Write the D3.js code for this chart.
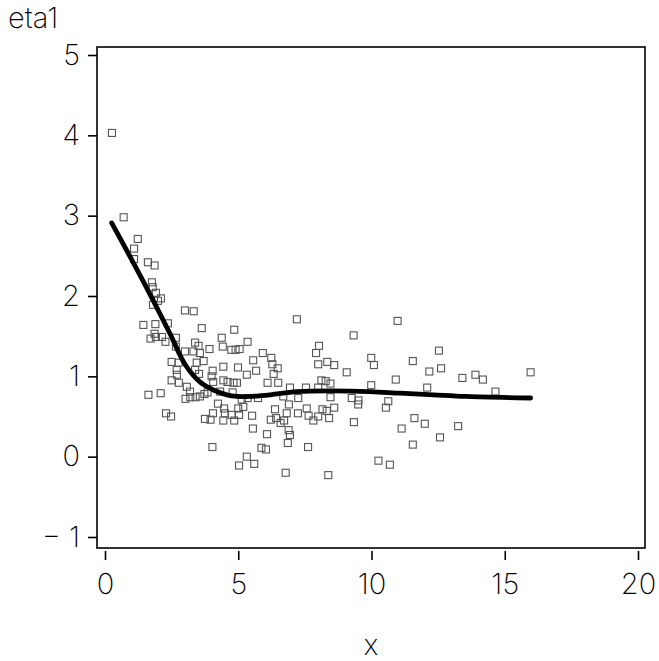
<!DOCTYPE html>
<html>
<head>
<meta charset="utf-8">
<script src="https://cdn.jsdelivr.net/npm/d3@7/dist/d3.min.js"></script>
<style>
  html, body { margin: 0; padding: 0; background: #fff; }
  svg text { font-family: Inter, "DejaVu Sans", sans-serif; font-weight: 200; fill: #000; }
</style>
</head>
<body>
<svg id="chart" width="659" height="661"></svg>
<script>
// scatter values (x, eta1)
const xs = [0.26,0.70,1.23,1.09,1.09,1.61,1.86,1.76,1.79,1.91,2.10,1.99,1.80,3.00,3.33,1.44,1.89,2.36,3.63,4.85,
1.71,1.86,1.91,2.14,2.27,2.66,2.66,3.38,3.51,4.38,4.42,3.92,3.32,3.56,4.74,4.90,5.05,5.35,3.00,2.50,
2.76,3.44,3.70,4.44,4.99,5.32,2.69,2.70,2.50,2.77,3.38,3.53,4.04,4.00,4.06,4.44,4.60,4.82,4.95,3.07,
3.19,3.02,3.20,3.40,3.56,3.73,3.85,4.32,4.79,1.63,2.09,4.24,4.47,5.13,5.35,5.19,5.00,4.05,4.50,4.75,
5.03,3.75,3.96,4.44,4.85,2.29,2.48,4.03,5.32,5.03,5.92,5.56,7.20,10.98,9.33,6.24,6.28,6.48,8.03,7.92,
8.00,8.34,8.60,9.99,10.09,11.55,5.67,6.33,9.07,12.17,6.10,6.50,8.12,8.28,8.46,10.91,6.94,7.54,8.00,9.99,
12.09,6.69,7.25,8.46,9.26,5.74,9.51,9.50,10.63,10.54,6.90,6.38,7.57,8.16,8.32,8.60,6.82,7.24,7.64,8.00,
8.41,7.82,5.52,6.22,6.42,6.72,6.59,9.34,11.61,12.00,5.55,6.89,6.94,6.08,11.13,6.86,5.87,6.04,7.62,11.55,
5.60,6.78,8.38,10.26,10.69,12.53,12.61,13.41,13.90,14.18,15.97,14.65,13.25,12.57];
const ys = [4.03,2.98,2.71,2.59,2.46,2.42,2.38,2.17,2.11,2.04,1.97,1.94,1.89,1.82,1.81,1.64,1.65,1.66,1.60,1.58,
1.47,1.53,1.49,1.49,1.43,1.48,1.37,1.42,1.38,1.48,1.37,1.34,1.31,1.29,1.33,1.33,1.34,1.43,1.31,1.18,
1.17,1.17,1.19,1.12,1.11,1.02,1.08,1.02,0.95,0.92,1.08,1.03,1.07,1.00,0.93,0.95,0.93,0.92,0.92,0.87,
0.81,0.72,0.74,0.74,0.75,0.78,0.80,0.81,0.80,0.77,0.79,0.66,0.60,0.71,0.73,0.62,0.60,0.54,0.54,0.52,
0.52,0.47,0.46,0.45,0.45,0.54,0.50,0.12,0.00,-0.11,1.29,1.20,1.71,1.69,1.51,1.23,1.15,1.10,1.38,1.29,
1.15,1.18,1.14,1.23,1.14,1.19,1.07,1.03,1.05,1.06,0.92,0.92,0.95,0.94,0.91,0.96,0.86,0.86,0.86,0.89,
0.86,0.75,0.73,0.74,0.73,0.73,0.70,0.65,0.69,0.61,0.65,0.59,0.60,0.59,0.57,0.61,0.54,0.54,0.51,0.50,
0.48,0.45,0.51,0.46,0.48,0.45,0.42,0.43,0.48,0.41,0.35,0.33,0.27,0.28,0.35,0.17,0.11,0.09,0.12,0.15,
-0.09,-0.20,-0.23,-0.05,-0.10,1.32,1.10,0.98,1.02,0.96,1.05,0.81,0.38,0.24];

// smooth fitted curve
const curveX = [0.25,0.94,1.69,2.44,3.00,3.56,4.07,4.57,4.95,5.44,6.19,7.19,8.44,9.94,11.07,12.31,13.57,15.97];
const curveY = [2.91,2.49,2.02,1.53,1.15,0.93,0.83,0.77,0.75,0.75,0.77,0.81,0.82,0.81,0.79,0.77,0.75,0.73];

const xTicks = [0, 5, 10, 15, 20];
const yTicks = [-1, 0, 1, 2, 3, 4, 5];
const xTitle = "x";
const yTitle = "eta1";

const svg = d3.select("#chart");
const box = { left: 97, right: 645, top: 47, bottom: 548 };

const x = d3.scaleLinear().domain([0, 20]).range([105, 638]);
const y = d3.scaleLinear().domain([-1, 5]).range([537, 55]);

// frame
svg.append("rect")
  .attr("x", box.left).attr("y", box.top)
  .attr("width", box.right - box.left).attr("height", box.bottom - box.top)
  .attr("fill", "none").attr("stroke", "#000").attr("stroke-width", 1.6);

// y axis
const yAxis = svg.append("g")
  .attr("transform", `translate(${box.left},0)`)
  .call(d3.axisLeft(y).tickValues(yTicks).tickSize(9).tickPadding(8)
        .tickFormat(d => d < 0 ? "\u2212 " + Math.abs(d) : d));
yAxis.select(".domain").remove();
yAxis.selectAll(".tick line").attr("stroke", "#000").attr("stroke-width", 1.6);
yAxis.selectAll(".tick text").style("font-size", "29px").attr("fill", "#000");

// x axis
const xAxis = svg.append("g")
  .attr("transform", `translate(0,${box.bottom + 3})`)
  .call(d3.axisBottom(x).tickValues(xTicks).tickSize(9).tickPadding(13));
xAxis.select(".domain").remove();
xAxis.selectAll(".tick line").attr("stroke", "#000").attr("stroke-width", 1.6);
xAxis.selectAll(".tick text").style("font-size", "29px").attr("fill", "#000");

// titles
svg.append("text").attr("x", 371).attr("y", 655)
  .attr("text-anchor", "middle").style("font-size", "28px").text(xTitle);
svg.append("text").attr("x", 8).attr("y", 28)
  .attr("text-anchor", "start").style("font-size", "29px").text(yTitle);

// scatter points
const pts = xs.map((v, i) => ({ x: v, y: ys[i] }));
svg.append("g").selectAll("rect").data(pts).join("rect")
  .attr("x", d => x(d.x) - 3.5).attr("y", d => y(d.y) - 3.5)
  .attr("width", 7).attr("height", 7)
  .attr("fill", "none").attr("stroke", "#555").attr("stroke-width", 1.1);

// fitted curve
const cpts = curveX.map((v, i) => [v, curveY[i]]);
svg.append("path").datum(cpts)
  .attr("d", d3.line().x(d => x(d[0])).y(d => y(d[1])).curve(d3.curveCatmullRom))
  .attr("fill", "none").attr("stroke", "#000").attr("stroke-width", 4.8)
  .attr("stroke-linecap", "round").attr("stroke-linejoin", "round");
</script>
</body>
</html>
